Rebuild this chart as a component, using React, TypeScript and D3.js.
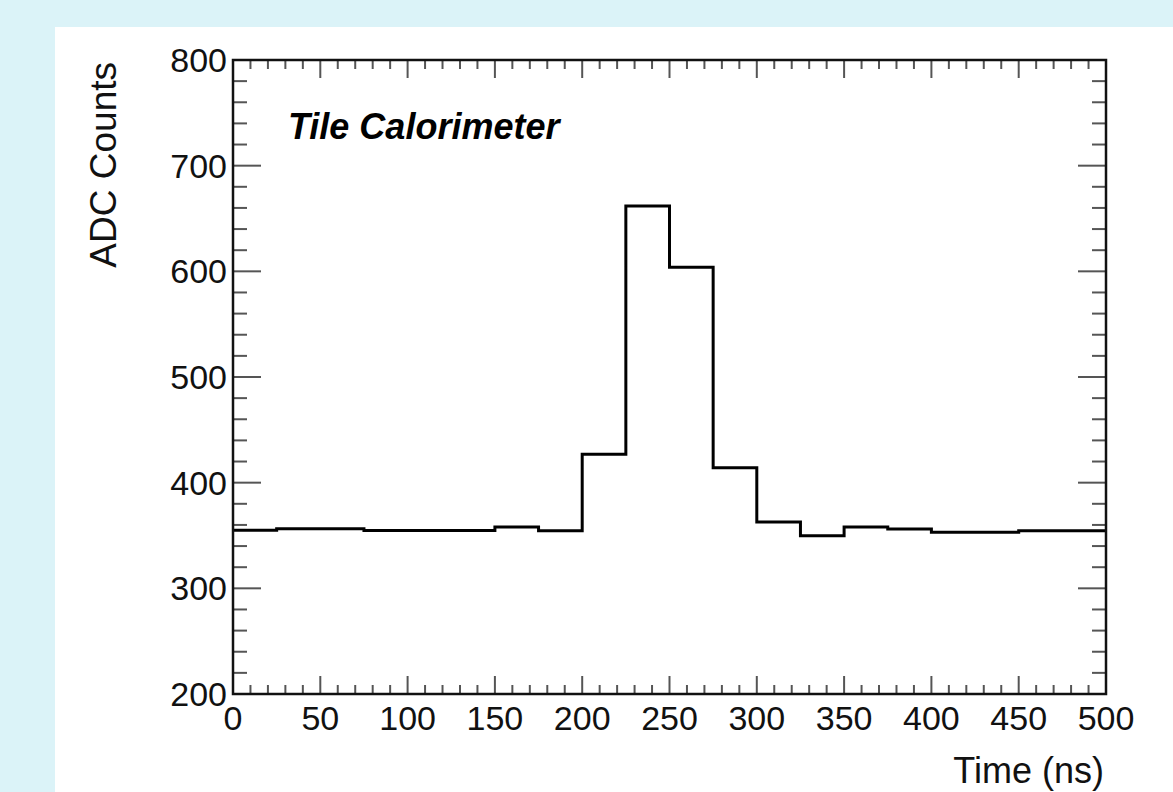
import React, { useRef, useEffect } from 'react';
import * as d3 from 'd3';

// bin edges every 25 ns, one value per bin
const binEdges = [0, 25, 50, 75, 100, 125, 150, 175, 200, 225, 250, 275, 300, 325, 350, 375, 400, 425, 450, 475, 500];
const adcCounts = [355, 356.5, 356.5, 354.8, 354.8, 354.8, 358, 354.5, 426.8, 661.8, 603.8, 414.2, 362.8, 349.8, 358, 356.1, 353, 353, 354.5, 354.5];

const xTicks = [0, 50, 100, 150, 200, 250, 300, 350, 400, 450, 500];
const yTicks = [200, 300, 400, 500, 600, 700, 800];

const W = 1173, H = 792;
const plot = { left: 233, right: 1106, top: 60, bottom: 694 };

export default function App() {
  const ref = useRef<SVGSVGElement>(null);

  useEffect(() => {
    const svg = d3.select(ref.current);
    svg.selectAll('*').remove();

    const x = d3.scaleLinear().domain([0, 500]).range([plot.left, plot.right]);
    const y = d3.scaleLinear().domain([200, 800]).range([plot.bottom, plot.top]);

    svg.append('rect').attr('width', W).attr('height', H).attr('fill', '#dbf3f8');
    svg.append('rect').attr('x', 55).attr('y', 27).attr('width', W - 55).attr('height', H - 27).attr('fill', '#fff');

    const font = '"Liberation Sans", Arial, Helvetica, sans-serif';
    const tickCol = '#555';

    // x ticks every 10 ns, bottom and top
    const g = svg.append('g');
    d3.range(0, 501, 10).forEach(v => {
      const major = v % 50 === 0;
      const len = major ? 18 : 9;
      g.append('line').attr('x1', x(v)).attr('x2', x(v))
        .attr('y1', plot.bottom).attr('y2', plot.bottom - len)
        .attr('stroke', tickCol).attr('stroke-width', 2);
      g.append('line').attr('x1', x(v)).attr('x2', x(v))
        .attr('y1', plot.top).attr('y2', plot.top + len)
        .attr('stroke', tickCol).attr('stroke-width', 2);
    });
    // y ticks every 20, left and right
    d3.range(200, 801, 20).forEach(v => {
      const major = v % 100 === 0;
      const len = major ? 28 : 14;
      g.append('line').attr('y1', y(v)).attr('y2', y(v))
        .attr('x1', plot.left).attr('x2', plot.left + len)
        .attr('stroke', tickCol).attr('stroke-width', 2);
      g.append('line').attr('y1', y(v)).attr('y2', y(v))
        .attr('x1', plot.right).attr('x2', plot.right - len)
        .attr('stroke', tickCol).attr('stroke-width', 2);
    });

    // histogram outline
    const pts: [number, number][] = [];
    adcCounts.forEach((c, i) => {
      pts.push([binEdges[i], c]);
      pts.push([binEdges[i + 1], c]);
    });
    const line = d3.line<[number, number]>().x(d => x(d[0])).y(d => y(d[1]));
    svg.append('path').attr('d', line(pts)).attr('fill', 'none')
      .attr('stroke', '#000').attr('stroke-width', 3).attr('stroke-linejoin', 'miter');

    // frame
    svg.append('rect').attr('x', plot.left).attr('y', plot.top)
      .attr('width', plot.right - plot.left).attr('height', plot.bottom - plot.top)
      .attr('fill', 'none').attr('stroke', '#111').attr('stroke-width', 2.5);

    // tick labels
    svg.append('g').selectAll('text').data(xTicks).join('text')
      .attr('x', d => x(d)).attr('y', 730)
      .attr('text-anchor', 'middle').attr('font-family', font).attr('font-size', 34)
      .attr('fill', '#111').text(d => d);
    svg.append('g').selectAll('text').data(yTicks).join('text')
      .attr('x', plot.left - 6).attr('y', d => y(d) + 12)
      .attr('text-anchor', 'end').attr('font-family', font).attr('font-size', 34)
      .attr('fill', '#111').text(d => d);

    // axis titles
    svg.append('text').attr('transform', `translate(116,62) rotate(-90)`)
      .attr('text-anchor', 'end').attr('font-family', font).attr('font-size', 37)
      .attr('fill', '#111').text('ADC Counts');
    svg.append('text').attr('x', 1104).attr('y', 783)
      .attr('text-anchor', 'end').attr('font-family', font).attr('font-size', 36)
      .attr('fill', '#111').text('Time (ns)');

    svg.append('text').attr('x', 288).attr('y', 139)
      .attr('font-family', font).attr('font-size', 36).attr('font-weight', 'bold')
      .attr('font-style', 'italic').attr('fill', '#000').text('Tile Calorimeter');
  }, []);

  return (
    <svg ref={ref} width={W} height={H} style={{ position: 'absolute', left: 0, top: 0 }} />
  );
}
